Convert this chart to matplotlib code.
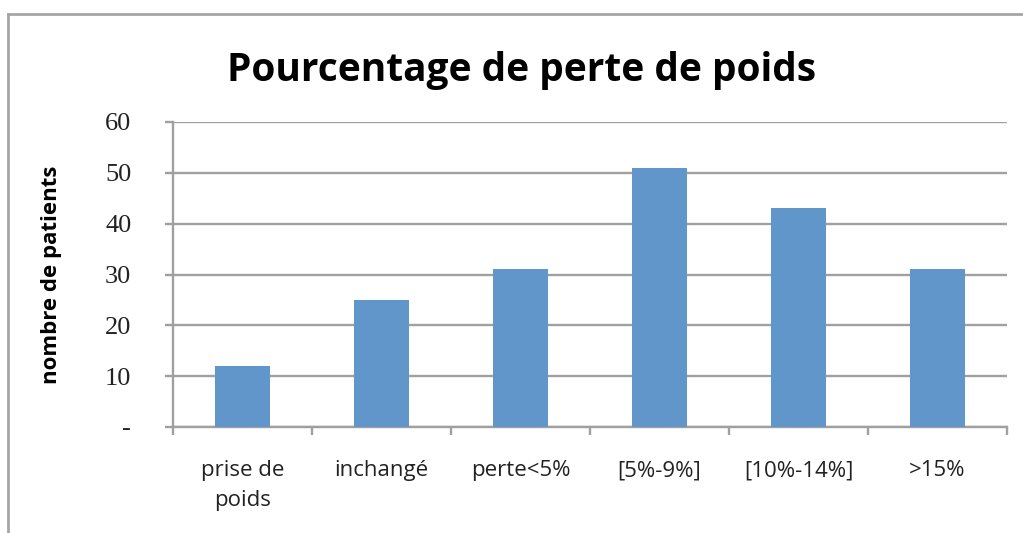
import matplotlib.pyplot as plt
from matplotlib.lines import Line2D
import numpy as np

# data
categories = ["prise de\npoids", "inchangé", "perte<5%", "[5%-9%]", "[10%-14%]", ">15%"]
patients = [12, 25, 31, 51, 43, 31]
y_ticks = [0, 10, 20, 30, 40, 50, 60]

BAR_COLOR = "#6096C9"
GRID_COLOR = "#A0A0A0"

fig = plt.figure(figsize=(10.23, 5.33), dpi=100)
ax = fig.add_axes([173 / 1023, 1 - 427 / 533, (1007 - 173) / 1023, (427 - 122) / 533])

x = np.arange(len(categories))
ax.bar(x, patients, width=0.4, color=BAR_COLOR, zorder=3)

ax.set_xlim(-0.5, len(categories) - 0.5)
ax.set_ylim(0, 60)
ax.set_yticks(y_ticks)
ax.set_yticklabels(["-" if v == 0 else str(v) for v in y_ticks],
                   fontfamily="Liberation Serif", fontsize=19, color="#222222")
ax.yaxis.grid(True, color=GRID_COLOR, linewidth=1.7, zorder=0)
ax.tick_params(axis="y", length=6, width=1.7, color=GRID_COLOR, pad=24)

# category labels centred, ticks at category boundaries
ax.set_xticks(np.arange(-0.5, len(categories), 1.0))
ax.set_xticklabels([])
ax.set_xticks(x, minor=True)
ax.set_xticklabels(categories, minor=True, fontfamily="Open Sans", fontsize=16,
                   color="#222222", linespacing=1.55)
ax.tick_params(axis="x", which="major", length=6, width=1.7, color=GRID_COLOR)
ax.tick_params(axis="x", which="minor", length=0, pad=24)

for side in ["top", "right"]:
    ax.spines[side].set_visible(False)
for side in ["left", "bottom"]:
    ax.spines[side].set_color(GRID_COLOR)
    ax.spines[side].set_linewidth(1.7)

ax.set_ylabel("nombre de patients", fontfamily="Open Sans", fontweight="bold",
              fontsize=16)
ax.yaxis.set_label_coords((62 - 173) / 834, 0.5)
fig.text(522 / 1023, 1 - 70 / 533, "Pourcentage de perte de poids",
         ha="center", va="center", fontfamily="Open Sans", fontweight="bold", fontsize=28)

# outer chart frame (top and left edges visible)
fig.add_artist(Line2D([8 / 1023, 1.0], [1 - 14 / 533, 1 - 14 / 533],
                      transform=fig.transFigure, color="#A6A6A6", linewidth=2))
fig.add_artist(Line2D([8 / 1023, 8 / 1023], [0.0, 1 - 14 / 533],
                      transform=fig.transFigure, color="#A6A6A6", linewidth=2))

fig.savefig("out.png", dpi=100)
